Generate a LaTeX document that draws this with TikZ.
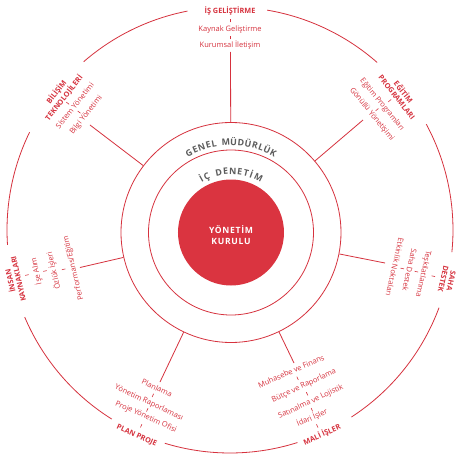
\documentclass[tikz,border=0pt]{standalone}
\usepackage{fontspec}
\setmainfont{Open Sans}
\definecolor{kred}{RGB}{214,50,62}
\definecolor{kfill}{RGB}{218,52,64}
\definecolor{kgray}{RGB}{92,92,92}
\tikzset{
  item/.style={text=kred, font=\fontsize{7.5}{8}\selectfont, inner sep=0pt},
  grouptitle/.style={text=kred, font=\fontsize{7.3}{8.2}\selectfont\bfseries, inner sep=0pt, align=center},
  ring/.style={draw=kred, line width=0.8pt},
  conn/.style={draw=kred, line width=0.8pt},
  tickline/.style={draw=kred, line width=0.6pt},
  ringletter/.style={text=kgray, font=\fontsize{8.9}{9}\selectfont\bfseries, inner sep=0pt, anchor=base},
}
\newcommand\ktick[2]{\draw[tickline] (#1:#2-1.8) -- (#1:#2+1.8);}
\newcommand\karc[2]{\draw[ring] (#1:223) arc[start angle=#1, end angle=#2, radius=223];}
\begin{document}
\begin{tikzpicture}[x=1pt,y=1pt]
\useasboundingbox (-230,-231) rectangle (231,230);
\fill[white] (-230,-231) rectangle (231,230);

% central circles (slightly offset centre, as in the reference)
\coordinate (rc) at (1,-2.5);
\node[circle, fill=kfill, minimum size=106pt, inner sep=0pt] (board) at (rc) {};
\node[text=white, font=\fontsize{8.6}{11.5}\selectfont\bfseries\addfontfeature{LetterSpace=8}, align=center, inner sep=0pt] (boardtext) at (1,-5) {YÖNETİM\\KURULU};
\node[circle, ring, minimum size=165pt, inner sep=0pt] (icd) at (rc) {};
\node[circle, ring, minimum size=220pt, inner sep=0pt] (genel) at (rc) {};

% ring texts
\begin{scope}[shift={(1,-2.5)}]
\foreach \a/\ch [count=\i] in {117.8/G,113.4/E,109.1/N,104.7/E,100.8/L,93.3/M,88.3/Ü,83.7/D,79.1/Ü,74.6/R,70.6/L,66.5/Ü,62.0/K}
  \node[ringletter, rotate=\a-90] (gm\i) at (\a:87) {\ch};
\foreach \a/\ch [count=\i] in {118.9/İ,113.3/Ç,101.7/D,95.0/E,88.4/N,81.7/E,75.6/T,70.5/İ,63.2/M}
  \node[ringletter, rotate=\a-90] (id\i) at (\a:58) {\ch};
\end{scope}

% outer circle arcs (gaps for group titles)
\karc{101}{131}
\karc{154}{183.8}
\karc{203}{238}
\karc{-107}{-72.4}
\karc{-57}{-20.4}
\karc{-5.7}{28.3}
\karc{48.7}{80.4}

% IS GELISTIRME
\node[grouptitle] (t1) at (90:219) {İŞ GELİŞTİRME};
\node[item] (i11) at (90:200) {Kaynak Geliştirme};
\node[item] (i12) at (90:185) {Kurumsal İletişim};
\ktick{90}{209.5}\ktick{90}{192.5}
\coordinate (e1) at (0.5,178);
\draw[conn] (genel) -- (e1);

% EGITIM PROGRAMLARI
\node[grouptitle, rotate=-51.5] (t2) at (38.5:218) {EĞİTİM\\PROGRAMLARI};
\node[item, rotate=-50.5] (i21) at (39.5:197) {Eğitim Programları};
\node[item, rotate=-50.8] (i22) at (39.2:183) {Gönüllü Yönetişimi};
\ktick{39}{205.5}\ktick{39.3}{190}
\coordinate (e2) at (133,110);
\draw[conn] (genel) -- (e2);

% SAHA DESTEK
\node[grouptitle, rotate=-103] (t3) at (-13:223) {SAHA\\DESTEK};
\node[item, rotate=-102.8] (i31) at (-12.8:198) {Teşkilatlanma};
\node[item, rotate=-102.5] (i32) at (-12.5:184) {Saha Destek};
\node[item, rotate=-102.6] (i33) at (-12.6:169) {Etkinlik Noktaları};
\ktick{-12.8}{208.5}\ktick{-12.6}{191}\ktick{-12.6}{176.5}
\coordinate (e3) at (155,-33);
\draw[conn] (genel) -- (e3);

% MALI ISLER
\node[grouptitle, rotate=24] (t4) at (-65.8:224.5) {MALİ İŞLER};
\node[item, rotate=23.6] (i41) at (-66.4:205) {İdari İşler};
\node[item, rotate=25.2] (i42) at (-64.8:190) {Satınalma ve Lojistik};
\node[item, rotate=25.4] (i43) at (-64.6:172.5) {Bütçe ve Raporlama};
\node[item, rotate=23.4] (i44) at (-66.6:154) {Muhasebe ve Finans};
\ktick{-66}{214.5}\ktick{-65.5}{197.5}\ktick{-64.8}{181}\ktick{-65.5}{163}
\coordinate (e4) at (64,-133);
\draw[conn] (genel) -- (e4);

% PLAN PROJE
\node[grouptitle, rotate=-24.5] (t5) at (-114.4:226) {PLAN PROJE};
\node[item, rotate=-24.2] (i51) at (-114.2:205) {Proje Yönetim Ofisi};
\node[item, rotate=-25.1] (i52) at (-115.1:191) {Yönetim Raporlaması};
\node[item, rotate=-24.8] (i53) at (-114.8:174) {Planlama};
\ktick{-114.4}{215}\ktick{-114.7}{198}\ktick{-115}{182.5}
\coordinate (e5) at (-70,-152);
\draw[conn] (genel) -- (e5);

% INSAN KAYNAKLARI
\node[grouptitle, rotate=103] (t6) at (193:222) {İNSAN\\KAYNAKLARI};
\node[item, rotate=102] (i61) at (192:198) {İşe Alım};
\node[item, rotate=103] (i62) at (193:181) {Özlük İşleri};
\node[item, rotate=103.7] (i63) at (193.7:161) {Performans/Eğitim};
\ktick{192.5}{208}\ktick{192.5}{189.5}\ktick{193.3}{171}
\coordinate (e6) at (-150,-37.5);
\draw[conn] (genel) -- (e6);

% BILISIM TEKNOLOJILERI
\node[grouptitle, rotate=51.5] (t7) at (141.5:217) {BİLİŞİM\\TEKNOLOJİLERİ};
\node[item, rotate=51.3] (i71) at (141.3:199) {Sistem Yönetimi};
\node[item, rotate=51.4] (i72) at (141.4:184) {Bilgi Yönetimi};
\ktick{142}{206}\ktick{142}{191.5}
\coordinate (e7) at (-140,105);
\draw[conn] (genel) -- (e7);
\end{tikzpicture}
\end{document}
